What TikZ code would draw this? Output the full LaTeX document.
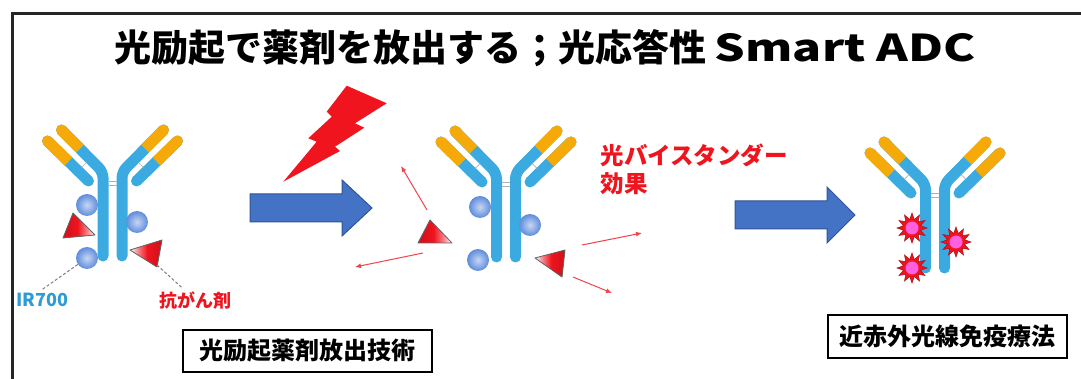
\documentclass[tikz,border=0pt]{standalone}
\usepackage{fontspec}
\setmainfont{Noto Sans CJK JP}
\usepackage{tikz}
\usetikzlibrary{arrows.meta, shapes.geometric}
\definecolor{abblue}{RGB}{59, 170, 224}
\definecolor{abyel}{RGB}{245, 170, 10}
\definecolor{beadblue}{RGB}{95, 140, 220}
\definecolor{barrow}{RGB}{68, 114, 196}
\definecolor{barrowline}{RGB}{47, 85, 151}
\definecolor{hot}{RGB}{240, 20, 30}
\definecolor{irblue}{RGB}{46, 154, 214}
\definecolor{burstcore}{RGB}{255, 95, 225}

% red-to-white fills for the drug triangles
\pgfdeclarehorizontalshading{drugleft}{100bp}{color(0bp)=(hot!85!black); color(25bp)=(hot!85!black);
  color(48bp)=(hot); color(62bp)=(hot!55!white); color(75bp)=(white); color(100bp)=(white)}
\pgfdeclarehorizontalshading{drugright}{100bp}{color(0bp)=(white); color(25bp)=(white);
  color(38bp)=(hot!55!white); color(52bp)=(hot); color(75bp)=(hot!85!black); color(100bp)=(hot!85!black)}

% antibody: two heavy chains, each with its light chain beside it
\tikzset{
  antibody/.pic={
    \foreach \s in {1,-1} {
      \begin{scope}[xscale=\s]
        \draw[line width=11pt, abblue, line cap=round, rounded corners=6pt] (-9.5,84) -- (-9.5,0) -- (-51,-42);
        \draw[line width=11pt, abblue, line cap=round] (-24,9) -- (-65,-31);
        \draw[line width=11pt, abyel] (-32.5,-23.3) -- (-51,-42);
        \fill[abyel] (-51,-42) circle (5.5pt);
        \draw[line width=11pt, abyel] (-44,-10.5) -- (-65,-31);
        \fill[abyel] (-65,-31) circle (5.5pt);
        \draw[gray!60, line width=0.7pt] (-26,-9.5) -- (-31,-4.5);
      \end{scope}
    }
    \draw[gray!60, line width=0.7pt] (-4,9) -- (4,9) (-4,13) -- (4,13);
  }
}

\begin{document}
\begin{tikzpicture}[x=1pt, y=-1pt,
    capbox/.style={draw, line width=2pt, inner sep=0pt, minimum height=42pt,
                   font=\bfseries\fontsize{24}{28}\selectfont},
    bead/.style={circle, inner sep=0pt, minimum size=22pt, shading=radial,
                 inner color=beadblue!35!white, outer color=beadblue},
    drug/.style={draw=black!60, line width=0.8pt, line join=round},
    lead/.style={gray, line width=1pt, dash pattern=on 3pt off 2pt},
    spray/.style={-{Latex[length=6pt, width=5pt]}, hot!80, line width=1pt},
    push/.style={fill=barrow, draw=barrowline, line width=1pt},
    burst/.style={star, star points=12, star point ratio=1.7, minimum size=30pt, inner sep=0pt,
                  fill=hot, draw=hot!70!black, line width=0.5pt},
    core/.style={circle, minimum size=13pt, inner sep=0pt, fill=burstcore}]
  \fill[white] (0,0) rectangle (1081,379);
  \useasboundingbox (0,0) rectangle (1081,379);
  \draw[line width=3pt, black!85] (1081,14) -- (12,14) -- (12,379);

  \node[font=\bfseries\fontsize{37}{40}\selectfont] (title) at (545,48)
    {光励起で薬剤を放出する；光応答性 {\addfontfeatures{FakeStretch=1.3}Smart ADC}};

  % antibody with IR700 and drug attached
  \pic at (112.5,172) {antibody};
  \node[bead] (b1) at (87,205) {};
  \node[bead] (b2) at (137,222) {};
  \node[bead] (b3) at (87,258) {};
  \filldraw[drug, shading=drugleft] (63,238) -- (73,213) -- (95,235) -- cycle;
  \filldraw[drug, shading=drugright] (130,250) -- (162,240) -- (157,267) -- cycle;
  \coordinate (t2) at (157,265);
  \node[font=\bfseries\fontsize{18}{20}\selectfont, text=irblue] (ir) at (42,300) {IR700};
  \node[font=\bfseries\fontsize{18}{20}\selectfont, text=hot] (ag) at (195,300) {抗がん剤};
  \draw[lead] (b3) -- (ir.north);
  \draw[lead] (t2) -- ([xshift=-13pt]ag.north);

  % light and first arrow
  \fill[hot] (346.7,85.7) -- (386.7,103.3) -- (355,123.3) -- (364.3,127.7) -- (335,146.7)
    -- (340,151) -- (283.3,181.7) -- (316.7,141.7) -- (308.3,138.3) -- (331.7,116.7)
    -- (326.7,111.7) -- cycle;
  \filldraw[push] (250,194) -- (342,194) -- (342,180) -- (372,208) -- (342,236) -- (342,222) -- (250,222) -- cycle;

  % drug released
  \pic at (506,173) {antibody};
  \node[bead] (c1) at (480,207) {};
  \node[bead] (c2) at (530,225) {};
  \node[bead] (c3) at (478,260) {};
  \filldraw[drug, shading=drugleft] (418,243) -- (430,220) -- (452,243) -- cycle;
  \filldraw[drug, shading=drugright] (535,258) -- (565,250) -- (562,277) -- cycle;
  \coordinate (s1) at (427,210); \coordinate (e1) at (401,166);
  \coordinate (s2) at (423,253); \coordinate (e2) at (355,267);
  \coordinate (s3) at (582,245); \coordinate (e3) at (642,233);
  \coordinate (s4) at (573,277); \coordinate (e4) at (612,293);
  \draw[spray] (s1) -- (e1);
  \draw[spray] (s2) -- (e2);
  \draw[spray] (s3) -- (e3);
  \draw[spray] (s4) -- (e4);
  \node[font=\bfseries\fontsize{23.5}{28}\selectfont, text=hot, align=left, anchor=west] (bys)
    at (597,169) {光バイスタンダー\\効果};

  \filldraw[push] (735,201) -- (827,201) -- (827,187) -- (855,215) -- (827,243) -- (827,229) -- (735,229) -- cycle;

  % antibody with activated dye
  \pic at (935,184) {antibody};
  \foreach \n/\p in {k1/{(912,228)}, k2/{(956,242)}, k3/{(912,268)}} {
    \node[burst] (\n) at \p {};
    \node[core] at (\n) {};
  }

  \node[capbox, minimum width=249pt] (tech) at (307.5,351) {光励起薬剤放出技術};
  \node[capbox, minimum width=239pt, minimum height=43pt] (nir) at (947.5,336.5) {近赤外光線免疫療法};
\end{tikzpicture}
\end{document}
